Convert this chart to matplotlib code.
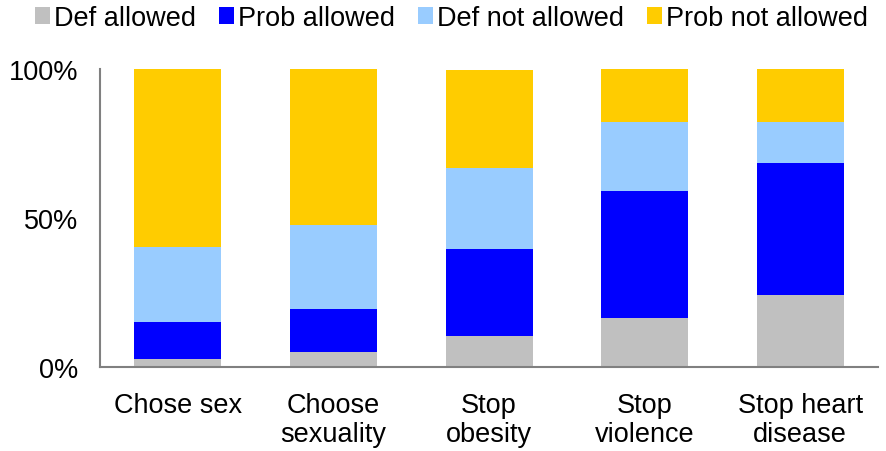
import matplotlib
matplotlib.use("Agg")
import matplotlib.pyplot as plt
from matplotlib.patches import Patch
import numpy as np

plt.rcParams['font.family'] = ['Liberation Sans', 'DejaVu Sans']

categories = ["Chose sex", "Choose\nsexuality", "Stop\nobesity", "Stop\nviolence", "Stop heart\ndisease"]
series_names = ["Def allowed", "Prob allowed", "Def not allowed", "Prob not allowed"]
def_allowed = [2.6, 5.0, 10.4, 16.4, 24.2]
prob_allowed = [12.6, 14.5, 29.2, 42.6, 44.4]
def_not_allowed = [25.2, 28.2, 27.2, 23.2, 13.6]
prob_not_allowed = [59.6, 52.3, 32.9, 17.8, 17.8]
colors = ["#c0c0c0", "#0000ff", "#99ccff", "#ffcc00"]

FS = 19.5

fig = plt.figure(figsize=(8.86, 4.52), dpi=100)
ax = fig.add_axes([0.113, 0.186, 0.878, 0.659])

x = np.arange(len(categories))
bottom = np.zeros(len(categories))
for vals, col in zip([def_allowed, prob_allowed, def_not_allowed, prob_not_allowed], colors):
    v = np.array(vals) / 100.0
    ax.bar(x, v, 0.56, bottom=bottom, color=col, linewidth=0)
    bottom += v

ax.set_xlim(-0.5, len(categories) - 0.5)
ax.set_ylim(0, 1)
ax.set_yticks([0, 0.5, 1.0])
ax.set_yticklabels(["0%", "50%", "100%"])
ax.set_xticks(x)
ax.set_xticklabels(categories, linespacing=1.17)
ax.tick_params(axis='both', length=0, labelsize=FS, colors='black')
ax.tick_params(axis='y', pad=16)
ax.tick_params(axis='x', pad=18)
for s in ['top', 'right']:
    ax.spines[s].set_visible(False)
for s in ['left', 'bottom']:
    ax.spines[s].set_color('#808080')
    ax.spines[s].set_linewidth(1.5)

handles = [Patch(facecolor=c, edgecolor='none') for c in colors]
fig.legend(handles, series_names, loc='center', bbox_to_anchor=(0.51, 0.958), ncol=4,
           frameon=False, fontsize=FS, handlelength=0.55, handleheight=0.55,
           handletextpad=0.15, columnspacing=0.85, borderaxespad=0)

fig.savefig("out.png", dpi=100)
